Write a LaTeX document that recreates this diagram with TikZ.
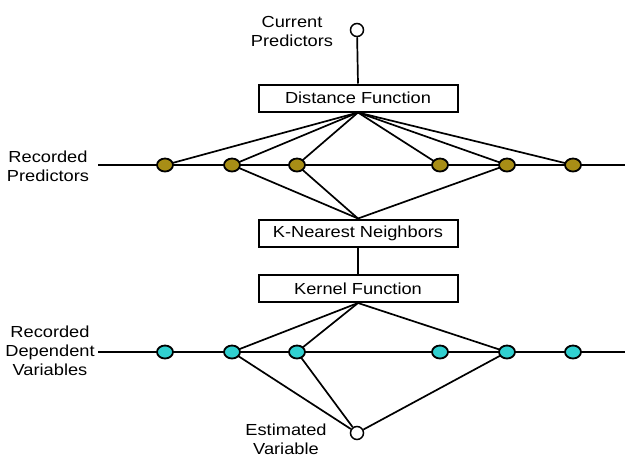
\documentclass[tikz,border=0pt]{standalone}
\usepackage{fontspec}
\setmainfont[FakeStretch=1.14]{Liberation Sans}
\usetikzlibrary{backgrounds,shapes.geometric}
\definecolor{olivedot}{RGB}{168,142,22}
\definecolor{cyandot}{RGB}{48,208,208}
\begin{document}
\begin{tikzpicture}[x=1pt,y=-1pt,
  every node/.style={font=\fontsize{16}{19}\selectfont},
  fbox/.style={draw,line width=2pt,minimum width=199pt,minimum height=27pt,inner sep=0pt},
  pdot/.style={ellipse,draw,line width=1.8pt,fill=olivedot,minimum width=16pt,minimum height=13pt,inner sep=0pt},
  ddot/.style={ellipse,draw,line width=1.8pt,fill=cyandot,minimum width=16pt,minimum height=13pt,inner sep=0pt},
  ocirc/.style={circle,draw,line width=1.5pt,fill=white,minimum size=13pt,inner sep=0pt},
  conn/.style={line width=1.7pt},
  lbl/.style={align=center,inner sep=0pt}]
\useasboundingbox (0,0) rectangle (625,459);
\clip (0,0) rectangle (625,459);
% boxes
\node[fbox] (dist) at (358,98) {Distance Function};
\node[fbox] (knn) at (358,233) {K-Nearest Neighbors};
\node[fbox] (kern) at (358,288.5) {Kernel Function};
% circles
\node[ocirc] (cur) at (357,30) {};
\node[ocirc] (est) at (357,433) {};
% labels
\node[lbl] (curl) at (292,31) {Current\\Predictors};
\node[lbl] (estl) at (286,439) {Estimated\\Variable};
\node[lbl] (recp) at (48,166) {Recorded\\Predictors};
\node[lbl] (recd) at (50,351) {Recorded\\Dependent\\Variables};
% line ends
\coordinate (pl) at (98,165);
\coordinate (pr) at (625,165);
\coordinate (dl) at (98,352);
\coordinate (dr) at (625,352);
% dots
\foreach \i/\x in {1/165,2/232,3/297,4/440,5/507,6/573}{
  \node[pdot] (p\i) at (\x,165) {};
  \node[ddot] (d\i) at (\x,352) {};
}
\begin{scope}[on background layer]
  \draw[conn] (pl) -- (pr);
  \draw[conn] (dl) -- (dr);
  \draw[conn] (cur) -- (dist.north);
  \foreach \i in {1,...,6} \draw[conn] (dist.south) -- (p\i.center);
  \foreach \i in {2,3,5} \draw[conn] (p\i.center) -- (knn.north);
  \draw[conn] (knn.south) -- (kern.north);
  \foreach \i in {2,3,5} \draw[conn] (kern.south) -- (d\i.center);
  \foreach \i in {2,3,5} \draw[conn] (d\i.center) -- (est);
\end{scope}
\end{tikzpicture}
\end{document}
